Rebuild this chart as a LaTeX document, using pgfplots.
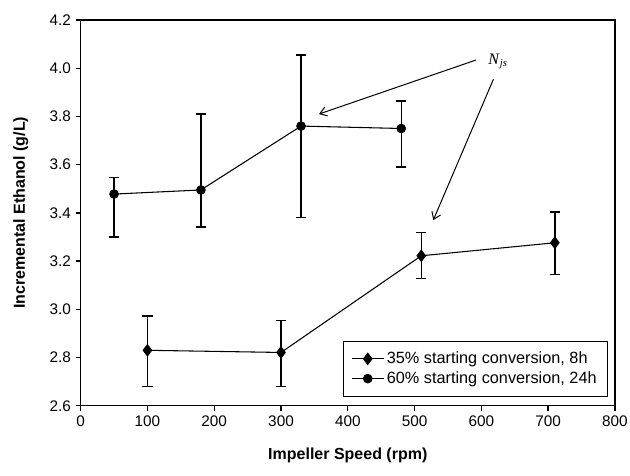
\documentclass[border=0pt]{standalone}
\usepackage{pgfplots}
\pgfplotsset{compat=1.18}
\usepackage{pgfplotstable}
\usepackage{fontspec}
\setmainfont{Liberation Sans}
\newfontfamily\serifit{Liberation Serif}
\usetikzlibrary{arrows.meta}

\pgfplotstableread{
x y ep em
100 2.830 0.142 0.150
300 2.821 0.133 0.141
510 3.222 0.097 0.094
710 3.276 0.127 0.131
}\dataA
\pgfplotstableread{
x y ep em
50 3.478 0.068 0.178
180 3.495 0.315 0.153
330 3.760 0.295 0.380
480 3.750 0.114 0.160
}\dataB

\begin{document}
\begin{tikzpicture}
\useasboundingbox (-60.5pt,-52pt) rectangle (412pt,304.3pt);
\begin{axis}[
  scale only axis,
  width=400.7pt, height=289.3pt,
  xmin=0, xmax=800, ymin=2.6, ymax=4.2,
  xtick={0,100,200,300,400,500,600,700,800},
  ytick={2.6,2.8,3.0,3.2,3.4,3.6,3.8,4.0,4.2},
  tick align=outside,
  tick pos=left,
  major tick length=3.75pt,
  axis line style={line width=1pt},
  every tick/.style={line width=1pt, black},
  tick label style={font=\fontsize{11.5}{13}\selectfont},
  /pgf/number format/assume math mode=true,
  y tick label style={/pgf/number format/.cd, fixed, fixed zerofill, precision=1},
  xlabel={Impeller Speed (rpm)},
  ylabel={Incremental Ethanol (g/L)},
  xlabel style={at={(axis description cs:0.5,-0.128)}, anchor=center, font=\bfseries\fontsize{12}{14}\selectfont},
  ylabel style={at={(axis description cs:-0.112,0.5)}, anchor=center, font=\bfseries\fontsize{12}{14}\selectfont},
  legend style={at={(axis description cs:0.987,0.023)}, anchor=south east,
    font=\fontsize{12.2}{14}\selectfont, draw=black, line width=1pt,
    row sep=0.5pt, inner xsep=6pt, inner ysep=6pt},
  legend cell align=left,
  legend image code/.code={\draw[mark repeat=2,mark phase=2] plot coordinates {(0cm,0cm) (0.42cm,0cm) (0.84cm,0cm)};},
  error bars/error bar style={line width=1pt, black},
  error bars/error mark options={rotate=90, mark size=3.9pt, line width=1pt, black},
]
\addplot[black, line width=0.8pt, mark=diamond*, mark size=4.2pt, mark options={solid},
  error bars/.cd, y dir=both, y explicit]
  table[x=x, y=y, y error plus=ep, y error minus=em] {\dataA};
\addlegendentry{35\% starting conversion, 8h}
\addplot[black, line width=0.8pt, mark=*, mark size=3.2pt, mark options={solid},
  error bars/.cd, y dir=both, y explicit]
  table[x=x, y=y, y error plus=ep, y error minus=em] {\dataB};
\addlegendentry{60\% starting conversion, 24h}

\draw[line width=0.75pt, -{Straight Barb[length=5pt,width=7pt]}] (axis cs:592,4.034) -- (axis cs:357,3.81);
\draw[line width=0.75pt, -{Straight Barb[length=5pt,width=7pt]}] (axis cs:618,3.954) -- (axis cs:528,3.37);
\node[anchor=center, font=\serifit\fontsize{12}{14}\selectfont] at (axis cs:625,4.028) {\textit{N}\textsubscript{\textit{js}}};
\end{axis}
\end{tikzpicture}
\end{document}
